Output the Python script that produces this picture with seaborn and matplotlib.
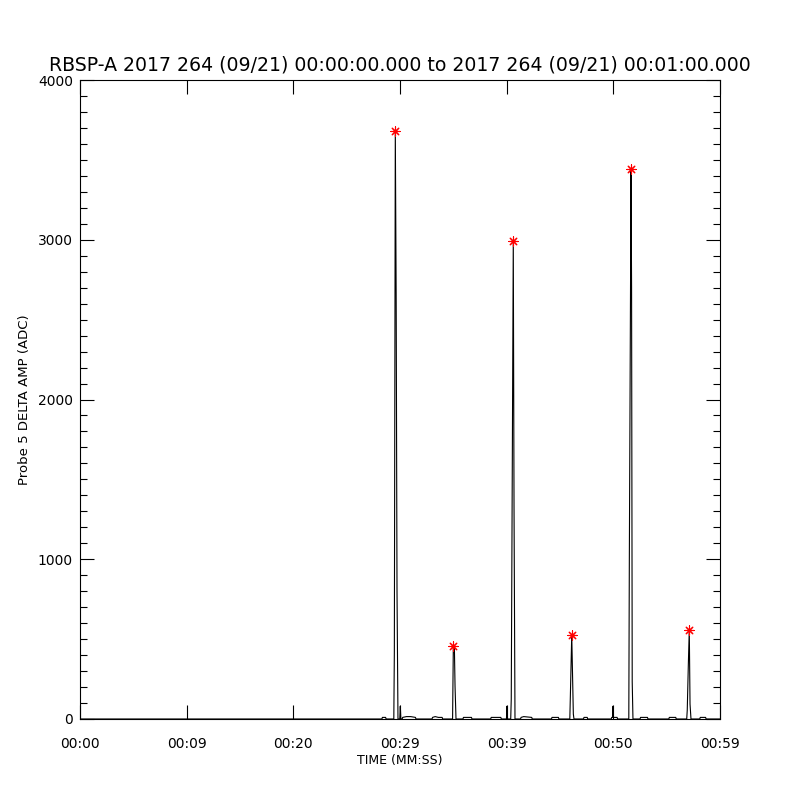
import numpy as np
import pandas as pd
import matplotlib
matplotlib.use("Agg")
import matplotlib.pyplot as plt
import seaborn as sns
from matplotlib.ticker import MultipleLocator, FixedLocator, FixedFormatter

# time (s) and amplitude (ADC) samples
time_s = [0.0, 28.3, 28.35, 28.65, 28.7,
          29.42, 29.47, 29.56, 29.64, 29.72, 29.81,
          29.98, 30.03, 30.08,
          30.2, 30.25, 30.6, 31.0, 31.45, 31.5,
          33.0, 33.05, 33.3, 33.6, 33.95, 34.0,
          34.93, 35.0, 35.1, 35.16, 35.25,
          35.9, 35.95, 36.7, 36.75,
          38.5, 38.55, 39.45, 39.5,
          39.98, 40.03, 40.08,
          40.38, 40.43, 40.53, 40.62, 40.69, 40.78,
          41.3, 41.35, 41.6, 42.35, 42.4,
          44.2, 44.25, 44.85, 44.9,
          45.92, 45.97, 46.1, 46.17, 46.25, 46.31,
          47.2, 47.25, 47.55, 47.6,
          49.8, 49.85, 49.93, 49.97, 50.01, 50.35, 50.4,
          51.45, 51.5, 51.66, 51.71, 51.77, 51.84,
          52.5, 52.55, 53.2, 53.25,
          55.2, 55.25, 55.85, 55.9,
          56.88, 56.93, 57.03, 57.12, 57.19, 57.28,
          58.1, 58.15, 58.65, 58.7,
          60.0]
amp = [0, 0, 10, 10, 0,
       0, 420, 3680, 2650, 800, 0,
       0, 80, 0,
       0, 10, 15, 15, 10, 0,
       0, 10, 15, 10, 10, 0,
       0, 456, 440, 206, 0,
       0, 10, 10, 0,
       0, 10, 10, 0,
       0, 80, 0,
       0, 125, 1620, 2990, 1330, 0,
       0, 10, 15, 10, 0,
       0, 10, 10, 0,
       0, 140, 525, 296, 31, 0,
       0, 10, 10, 0,
       0, 10, 10, 80, 10, 10, 0,
       0, 990, 3440, 2700, 233, 0,
       0, 10, 10, 0,
       0, 10, 10, 0,
       0, 56, 337, 560, 94, 0,
       0, 10, 10, 0,
       0]

# detected peaks (red asterisks)
peak_time = [29.56, 35.0, 40.62, 46.1, 51.66, 57.12]
peak_amp = [3680, 456, 2990, 525, 3440, 560]

xtick_pos = [0, 10, 20, 30, 40, 50, 60]
xtick_labels = ["00:00", "00:09", "00:20", "00:29", "00:39", "00:50", "00:59"]

df = pd.DataFrame({"t": time_s, "amp": amp})
peaks = pd.DataFrame({"t": peak_time, "amp": peak_amp})

sns.set_style("ticks")
plt.rcParams["font.family"] = ["DejaVu Sans"]
plt.rcParams["text.color"] = "black"
plt.rcParams["axes.labelcolor"] = "black"
plt.rcParams["xtick.color"] = "black"
plt.rcParams["ytick.color"] = "black"

fig = plt.figure(figsize=(8, 8), dpi=100)
ax = fig.add_axes([0.1, 0.10125, 0.8, 0.79875])

sns.lineplot(data=df, x="t", y="amp", ax=ax, color="black", lw=0.8, estimator=None)
sns.scatterplot(data=peaks, x="t", y="amp", ax=ax, color="red", marker=(8, 2, 0),
                s=45, linewidth=0.8, edgecolor="red", zorder=5)

ax.set_xlim(0, 60)
ax.set_ylim(0, 4000)
ax.xaxis.set_major_locator(FixedLocator(xtick_pos))
ax.xaxis.set_major_formatter(FixedFormatter(xtick_labels))
ax.yaxis.set_major_locator(MultipleLocator(1000))
ax.yaxis.set_minor_locator(MultipleLocator(100))

ax.tick_params(axis="both", which="both", direction="in", top=True, right=True, color="black")
ax.tick_params(axis="both", which="major", length=10, width=0.8, labelsize=10)
ax.tick_params(axis="y", which="minor", length=5, width=0.8)
ax.tick_params(axis="x", which="major", pad=13)
ax.tick_params(axis="y", which="major", pad=5)
for sp in ax.spines.values():
    sp.set_linewidth(0.8)
    sp.set_color("black")

ax.set_xlabel("TIME (MM:SS)", fontsize=9, labelpad=2)
ax.set_ylabel("Probe 5 DELTA AMP (ADC)", fontsize=9.5, labelpad=5)
ax.set_title("RBSP-A 2017 264 (09/21) 00:00:00.000 to 2017 264 (09/21) 00:01:00.000",
             fontsize=13.6, pad=7)

fig.savefig("out.png", dpi=100, facecolor="white")
